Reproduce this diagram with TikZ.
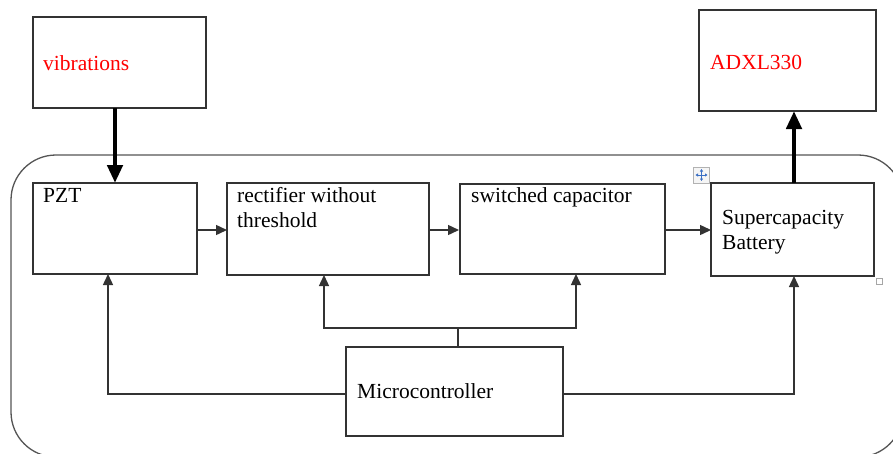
\documentclass[tikz,border=0pt]{standalone}
\usepackage{fontspec}
\setmainfont{Liberation Serif}
\usetikzlibrary{arrows.meta}
\definecolor{boxline}{HTML}{333333}
\definecolor{frameline}{HTML}{555555}
\definecolor{txtred}{HTML}{FF0000}
\definecolor{handleblue}{HTML}{3A6FC4}
\tikzset{
  blockbox/.style={draw=boxline, line width=1.5pt, rectangle, inner sep=0pt, outer sep=0pt, fill=white},
  lbl/.style={anchor=base west, inner sep=0pt, font=\fontsize{21.5}{25}\selectfont},
  redlbl/.style={lbl, text=txtred},
  arr/.style={draw=boxline, line width=1.4pt, -{Triangle[length=11pt,width=10pt]}},
  plainline/.style={draw=boxline, line width=1.4pt},
  bigarr/.style={draw=black, line width=4.6pt, -{Triangle[length=18pt,width=15pt]}},
}
\begin{document}
\begin{tikzpicture}[x=1pt,y=-1pt]
\useasboundingbox (0,0) rectangle (893,453);
\fill[white] (0,0) rectangle (893,453);
% enclosing frame
\draw[frameline, line width=1.3pt, rounded corners=45pt] (11,155) rectangle (903,457);
% boxes
\node[blockbox, minimum width=173pt, minimum height=91pt] (vib) at (119.5,62.5) {};
\node[blockbox, minimum width=177pt, minimum height=101pt] (adxl) at (787.5,60.5) {};
\node[blockbox, minimum width=164pt, minimum height=91pt] (pzt) at (115,228.5) {};
\node[blockbox, minimum width=202pt, minimum height=92pt] (rect) at (328,229) {};
\node[blockbox, minimum width=205pt, minimum height=90pt] (sw) at (562.5,229) {};
\node[blockbox, minimum width=163pt, minimum height=93pt] (sup) at (792.5,229.5) {};
\node[blockbox, minimum width=217pt, minimum height=89pt] (mcu) at (454.5,391.5) {};
% texts
\node[redlbl] (tvib) at (43,70) {vibrations};
\node[redlbl] (tadxl) at (710,69) {ADXL330};
\node[lbl] (tpzt) at (43,202) {PZT};
\node[lbl] (trect1) at (237,202) {rectifier without};
\node[lbl] (trect2) at (237,227) {threshold};
\node[lbl] (tsw) at (471,202) {switched capacitor};
\node[lbl] (tsup1) at (722,224) {Supercapacity};
\node[lbl] (tsup2) at (722,249) {Battery};
\node[lbl] (tmcu) at (357,398) {Microcontroller};
% thick arrows
\draw[bigarr] (pzt.north |- vib.south) -- (pzt.north);
\draw[bigarr] ([xshift=1.5pt]sup.north) -- ([xshift=1.5pt]sup.north |- adxl.south);
% chain arrows
\coordinate (cy) at (0,230);
\draw[arr] ([xshift=1pt]pzt.east |- cy) -- (rect.west |- cy);
\draw[arr] (rect.east |- cy) -- ([xshift=-1pt]sw.west |- cy);
\draw[arr] (sw.east |- cy) -- (sup.west |- cy);
% microcontroller connections
\coordinate (j) at (458,328);
\coordinate (ja) at (324,328);
\coordinate (jb) at (576,328);
\draw[plainline] (mcu.north -| j) -- (j);
\draw[arr] (j) -- (ja) -- (ja |- rect.south);
\draw[arr] (j) -- (jb) -- (jb |- sw.south);
\coordinate (ml) at (346,394);
\coordinate (mr) at (563,394);
\draw[arr] (ml) -| ([xshift=-7pt]pzt.south);
\draw[arr] (mr) -| ([xshift=1.5pt]sup.south);
% editor handles
\node[draw=gray!60, fill=gray!8, line width=0.8pt, minimum size=16pt, inner sep=0pt] (mv) at (701.5,175) {};
\draw[handleblue, line width=1pt, {Triangle[length=2.5pt,width=3pt]}-{Triangle[length=2.5pt,width=3pt]}] ([xshift=-6pt]mv.center) -- ([xshift=6pt]mv.center);
\draw[handleblue, line width=1pt, {Triangle[length=2.5pt,width=3pt]}-{Triangle[length=2.5pt,width=3pt]}] ([yshift=-6pt]mv.center) -- ([yshift=6pt]mv.center);
\node[draw=gray!70, fill=white, line width=0.8pt, minimum size=6pt, inner sep=0pt] (rs) at (879.5,281) {};
\end{tikzpicture}
\end{document}
